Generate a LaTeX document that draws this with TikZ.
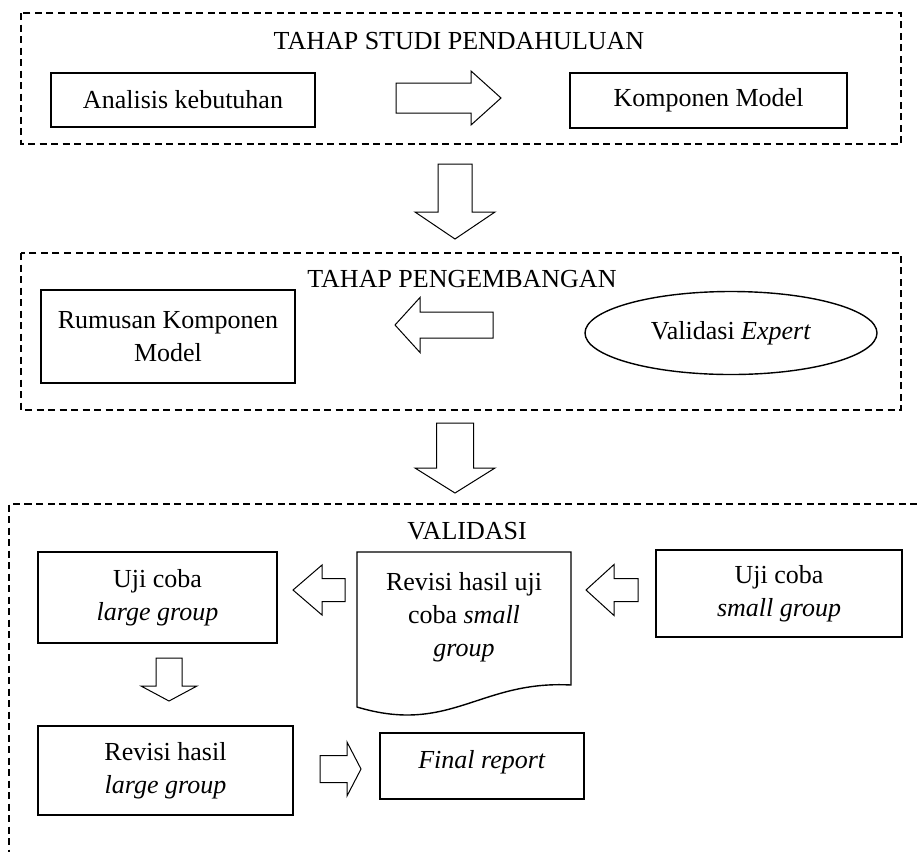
\documentclass[tikz,border=0pt]{standalone}
\usepackage{fontspec}
\setmainfont{Liberation Serif}
\usetikzlibrary{shapes.geometric}

\tikzset{
  stage/.style={draw, line width=1.6pt, dash pattern=on 7pt off 4.5pt},
  box/.style={draw, line width=1.4pt, align=center, inner sep=0pt},
  % hollow block arrow pointing right: length, half shaft, half head, head length
  pics/hollowarrow/.style n args={4}{code={
    \draw[line width=1pt, line join=miter] ({-#1/2},{-#2}) -- ({#1/2-#4},{-#2}) -- ({#1/2-#4},{-#3})
      -- ({#1/2},0) -- ({#1/2-#4},{#3}) -- ({#1/2-#4},{#2}) -- ({-#1/2},{#2}) -- cycle;
  }},
}

\begin{document}
\begin{tikzpicture}[x=1pt, y=-1pt, font=\fontsize{26}{33}\selectfont]
    \useasboundingbox (0,0) rectangle (917,852);

    % Dashed stage frames
    \draw[stage] (21,13) rectangle (901,144);
    \draw[stage] (21,253) rectangle (901,410);
    \draw[stage] (917,504) -- (9,504) -- (9,852);

    % Stage titles
    \node (studi) at (459,41) {TAHAP STUDI PENDAHULUAN};
    \node (kembang) at (462,279) {TAHAP PENGEMBANGAN};
    \node (valid) at (467,531) {VALIDASI};

    % Stage 1
    \node[box, minimum width=264, minimum height=54] (analisis) at (183,100) {Analisis kebutuhan};
    \node[box, minimum width=277, minimum height=55] (komponen) at (708.5,100.5) {Komponen Model};
    \pic (a1) at (448.5,98) {hollowarrow={105}{15}{27}{30}};

    \pic[rotate=-90] (d1) at (455,201.5) {hollowarrow={75}{17}{40}{27}};

    % Stage 2
    \node[box, minimum width=254, minimum height=93] (rumusan) at (168,336.5) {Rumusan Komponen\\Model};
    \node[ellipse, draw, line width=1.4pt, minimum width=292, minimum height=83, inner sep=0pt]
          (expert) at (731,333) {Validasi \textit{Expert}};
    \pic[rotate=180] (a2) at (444,325) {hollowarrow={98}{13}{27.5}{25}};

    \pic[rotate=-90] (d2) at (455,458) {hollowarrow={70}{18.5}{40}{25}};

    % Stage 3
    \node[box, minimum width=239, minimum height=91] (ujilarge) at (157.5,597.5) {Uji coba\\\textit{large group}};
    \node[box, minimum width=246, minimum height=87] (ujismall) at (779,593.5) {Uji coba\\\textit{small group}};
    \draw[line width=1.4pt] (357,552) -- (571,552) -- (571,685)
        .. controls (480,680) and (450,735) .. (357,707) -- cycle;
    \node[align=center] (revsmall) at (464,617) {Revisi hasil uji\\coba \textit{small}\\\textit{group}};
    \node[box, minimum width=255, minimum height=89] (revlarge) at (165.5,770.5) {Revisi hasil\\\textit{large group}};
    \node[box, minimum width=204, minimum height=66, text depth=14pt] (final) at (482,766) {\textit{Final report}};

    \pic[rotate=180] (a3) at (612,590) {hollowarrow={52}{11.5}{25.5}{28}};
    \pic[rotate=180] (a4) at (319,590) {hollowarrow={52}{11.5}{25}{29}};
    \pic[rotate=-90] (d3) at (169,679.5) {hollowarrow={43}{13}{28}{15}};
    \pic (a5) at (340.5,769) {hollowarrow={41}{13.5}{27}{14}};
\end{tikzpicture}
\end{document}
